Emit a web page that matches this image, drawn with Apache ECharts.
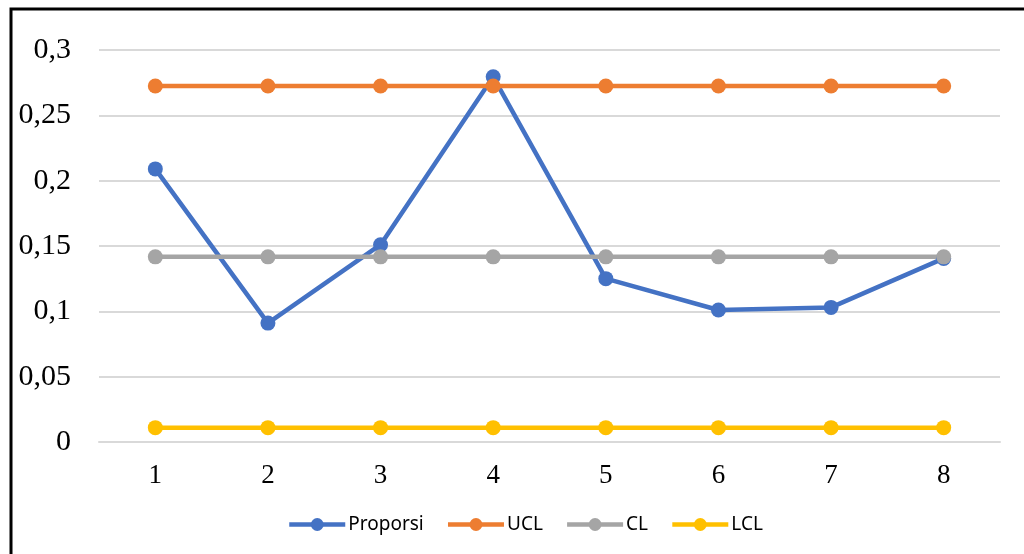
<!DOCTYPE html>
<html>
<head>
<meta charset="utf-8">
<script src="https://cdn.jsdelivr.net/npm/echarts@6/dist/echarts.min.js"></script>
<style>
	html, body { margin: 0; padding: 0; background: #fff; }
	#chart { width: 1024px; height: 554px; }
</style>
</head>
<body>
<div id="chart"></div>
<script>
// 数据
var categories = ['1', '2', '3', '4', '5', '6', '7', '8'];
var proporsi = [0.209, 0.091, 0.151, 0.2795, 0.125, 0.101, 0.103, 0.1405];
var ucl = [0.2725, 0.2725, 0.2725, 0.2725, 0.2725, 0.2725, 0.2725, 0.2725];
var cl = [0.1417, 0.1417, 0.1417, 0.1417, 0.1417, 0.1417, 0.1417, 0.1417];
var lcl = [0.011, 0.011, 0.011, 0.011, 0.011, 0.011, 0.011, 0.011];
var seriesNames = ['Proporsi', 'UCL', 'CL', 'LCL'];
var colors = ['#4472c4', '#ed7d31', '#a5a5a5', '#ffc000'];

var Chart = {
	domElement : document.getElementById('chart'),
	// 构造单条折线
	_line_ : function(name, data) {
		return {
			name : name,
			type : 'line',
			data : data,
			symbol : 'circle',
			symbolSize : 15,
			lineStyle : { width : 4.5 },
			animation : false
		};
	},
	show : function() {
		var charts = echarts.init(this.domElement, null, { width : 1024, height : 554 });
		this.options.series = [
			this._line_(seriesNames[0], proporsi),
			this._line_(seriesNames[1], ucl),
			this._line_(seriesNames[2], cl),
			this._line_(seriesNames[3], lcl)
		];
		charts.setOption(this.options);
	},
	options : {
		color : colors,
		backgroundColor : '#fff',
		grid : { left : 99, right : 24, top : 50, bottom : 112 },
		// 外框
		graphic : [ {
			type : 'rect',
			shape : { x : 11, y : 9, width : 1030, height : 570 },
			style : { fill : null, stroke : '#000', lineWidth : 3 }
		} ],
		legend : {
			left : 282,
			top : 510,
			itemWidth : 56,
			itemHeight : 16,
			itemGap : 22,
			lineStyle : { width : 4.5 },
			textStyle : { fontFamily : 'Noto Sans', fontSize : 19, color : '#000', padding : [0, 0, 0, -2] }
		},
		xAxis : {
			type : 'category',
			data : categories,
			axisTick : { show : false },
			axisLine : { lineStyle : { color : '#d9d9d9', width : 2 } },
			axisLabel : { fontFamily : 'Liberation Serif', fontSize : 27, color : '#000', margin : 20 }
		},
		yAxis : {
			type : 'value',
			min : 0,
			max : 0.3,
			interval : 0.05,
			axisLine : { show : false },
			axisTick : { show : false },
			splitLine : { lineStyle : { color : '#d9d9d9', width : 2 } },
			axisLabel : {
				fontFamily : 'Liberation Serif', fontSize : 30, color : '#000', margin : 28,
				formatter : function(v) { return String(+v.toFixed(2)).replace('.', ','); }
			}
		},
		series : []
	}
};
Chart.show();
</script>
</body>
</html>
